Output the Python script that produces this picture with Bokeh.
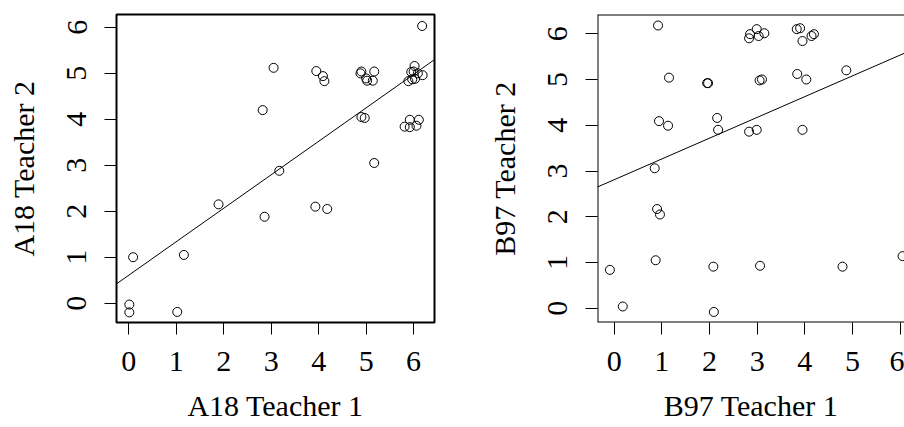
from bokeh.plotting import figure
from bokeh.layouts import row
from bokeh.models import FixedTicker, Range1d, Slope, Span
from bokeh.embed import file_html
from bokeh.resources import INLINE

# A18: ratings given by the two teachers
a18_t1 = [6.18, 3.05, 3.95, 4.09, 4.12, 4.90, 4.88, 5.00, 5.02, 5.17, 5.14, 5.89, 5.95,
          6.02, 6.00, 6.03, 5.97, 6.09, 6.19, 2.82, 4.90, 4.97, 5.81, 5.92, 5.92, 6.06,
          6.11, 5.17, 3.17, 1.89, 2.86, 3.93, 4.18, 1.16, 0.09, 0.01, 0.01, 1.02]
a18_t2 = [6.03, 5.12, 5.05, 4.94, 4.83, 5.04, 5.00, 4.89, 4.84, 5.04, 4.84, 4.83, 5.03,
          5.16, 5.04, 4.88, 4.87, 5.00, 4.96, 4.20, 4.05, 4.03, 3.84, 3.99, 3.83, 3.86,
          3.99, 3.05, 2.88, 2.15, 1.88, 2.10, 2.05, 1.05, 1.00, -0.03, -0.20, -0.19]
a18_intercept = 0.61
a18_slope = 0.728

# B97: ratings given by the two teachers
b97_t1 = [0.92, 2.83, 2.85, 2.99, 3.03, 3.15, 3.83, 3.90, 3.95, 4.14, 4.19, 1.15, 1.95,
          1.97, 3.05, 3.10, 3.84, 4.03, 4.87, 0.94, 1.13, 2.16, 2.18, 2.83, 2.99, 3.95,
          0.85, 0.90, 0.96, 0.87, -0.09, 2.08, 3.06, 4.79, 6.05, 0.18, 2.09]
b97_t2 = [6.18, 5.90, 5.99, 6.10, 5.95, 6.01, 6.10, 6.12, 5.84, 5.95, 5.99, 5.04, 4.92,
          4.92, 4.98, 5.00, 5.12, 5.00, 5.20, 4.09, 3.99, 4.16, 3.90, 3.86, 3.90, 3.90,
          3.06, 2.17, 2.05, 1.05, 0.84, 0.91, 0.93, 0.91, 1.14, 0.04, -0.08]
b97_intercept = 2.81
b97_slope = 0.454

tick_values = [0, 1, 2, 3, 4, 5, 6]

FONT = "Liberation Serif"
FSIZE = "30px"


def panel(xs, ys, intercept, slope, xlabel, ylabel, xr, yr, width, border_left, border_right, boxed):
    p = figure(width=width, height=427, output_backend="svg", toolbar_location=None,
               x_range=Range1d(*xr), y_range=Range1d(*yr),
               min_border_left=border_left, min_border_right=border_right,
               min_border_top=14, min_border_bottom=105)
    p.background_fill_color = "white"
    p.border_fill_color = "white"
    p.grid.visible = False
    if boxed:
        p.outline_line_color = "black"
        p.outline_line_width = 2
    else:
        p.outline_line_color = None
        p.add_layout(Span(location=xr[0], dimension="height", line_color="black", line_width=2))
        p.add_layout(Span(location=yr[0], dimension="width", line_color="black", line_width=2))
        p.add_layout(Span(location=yr[1], dimension="width", line_color="black", line_width=2))

    for ax in (p.xaxis[0], p.yaxis[0]):
        ax.ticker = FixedTicker(ticks=tick_values)
        ax.axis_line_color = None
        ax.major_tick_out = 12
        ax.major_tick_in = 0
        ax.major_tick_line_color = "black"
        ax.minor_tick_line_color = None
        ax.major_label_text_font = FONT
        ax.major_label_text_font_size = FSIZE
        ax.major_label_text_color = "black"
        ax.axis_label_text_font = FONT
        ax.axis_label_text_font_size = FSIZE
        ax.axis_label_text_font_style = "normal"
        ax.axis_label_text_color = "black"
    p.xaxis.axis_label = xlabel
    p.yaxis.axis_label = ylabel
    p.xaxis.major_label_standoff = 17
    p.xaxis.axis_label_standoff = 15
    p.yaxis.major_label_orientation = "vertical"
    p.yaxis.major_label_standoff = 18
    p.yaxis.axis_label_standoff = 25

    p.add_layout(Slope(gradient=slope, y_intercept=intercept, line_color="black", line_width=1))
    p.scatter(xs, ys, marker="circle", size=9, fill_color=None, line_color="black", line_width=1)
    return p


p1 = panel(a18_t1, a18_t2, a18_intercept, a18_slope, "A18 Teacher 1", "A18 Teacher 2",
           (-0.26, 6.44), (-0.42, 6.28), 480, 116, 46, True)
p2 = panel(b97_t1, b97_t2, b97_intercept, b97_slope, "B97 Teacher 1", "B97 Teacher 2",
           (-0.35, 6.09), (-0.31, 6.42), 424, 117, 0, False)

layout = row(p1, p2)
open("out.html", "w").write(file_html(layout, INLINE))
